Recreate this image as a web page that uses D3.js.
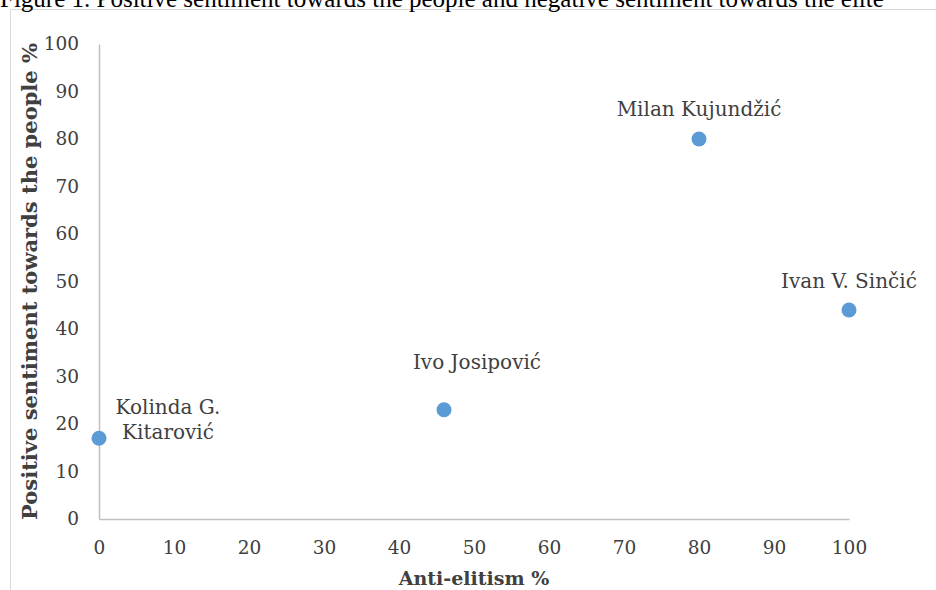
<!DOCTYPE html>
<html>
<head>
<meta charset="utf-8">
<script src="https://cdn.jsdelivr.net/npm/d3@7"></script>
<style>
  body { margin: 0; background: #fff; }
  svg { display: block; }
  .tick text { font-family: "DejaVu Serif", serif; font-size: 18.5px; fill: #404040; }
  .lbl { font-family: "DejaVu Serif", serif; font-size: 20px; fill: #404040; }
  .ttl { font-family: "DejaVu Serif", serif; font-weight: bold; fill: #404040; }
</style>
</head>
<body>
<script>
// data
var names = ["Kolinda G.\nKitarović", "Ivo Josipović", "Milan Kujundžić", "Ivan V. Sinčić"];
var antiElitism = [0, 46, 80, 100];
var positivePeople = [17, 23, 80, 44];
var xTicks = [0, 10, 20, 30, 40, 50, 60, 70, 80, 90, 100];
var yTicks = [0, 10, 20, 30, 40, 50, 60, 70, 80, 90, 100];

// where each data label sits relative to its point (px)
var labelPos = [
  { dx: 69, dy: -24 },
  { dx: 33, dy: -41 },
  { dx: 0, dy: -23 },
  { dx: 0, dy: -22 }
];

var dataset = names.map(function(n, i) {
  return { name: n, x: antiElitism[i], y: positivePeople[i] };
});

var W = 936, H = 590;
var margin = { top: 44, right: 87, bottom: 71, left: 99 };
var width = W - margin.left - margin.right;
var height = H - margin.top - margin.bottom;

var svg = d3.select("body").append("svg")
  .attr("width", W)
  .attr("height", H);

// chart area border (runs off the right/bottom of the picture)
svg.append("rect")
  .attr("x", 10.5).attr("y", 9.5)
  .attr("width", 1000).attr("height", 700)
  .attr("fill", "none")
  .attr("stroke", "#d9d9d9");

// figure caption, cut by the top edge
svg.append("text")
  .attr("x", 0).attr("y", 7)
  .attr("font-family", "Liberation Serif, serif")
  .attr("font-size", 25)
  .attr("fill", "#000")
  .text("Figure 1. Positive sentiment towards the people and negative sentiment towards the elite");

var g = svg.append("g")
  .attr("transform", "translate(" + margin.left + "," + margin.top + ")");

var xScale = d3.scaleLinear().domain([0, 100]).range([0, width]);
var yScale = d3.scaleLinear().domain([0, 100]).range([height, 0]);

var xAxis = g.append("g")
  .attr("transform", "translate(0," + height + ")")
  .call(d3.axisBottom(xScale).tickValues(xTicks).tickSize(0).tickPadding(22));
var yAxis = g.append("g")
  .call(d3.axisLeft(yScale).tickValues(yTicks).tickSize(0).tickPadding(20));

[xAxis, yAxis].forEach(function(a) {
  a.select(".domain").attr("stroke", "#bfbfbf").attr("stroke-width", 1.5);
  a.selectAll("text").attr("font-family", null).attr("font-size", null);
});

// axis titles
g.append("text")
  .attr("class", "ttl")
  .attr("font-size", 19)
  .attr("text-anchor", "middle")
  .attr("x", width / 2)
  .attr("y", height + 66)
  .text("Anti-elitism %");

g.append("text")
  .attr("class", "ttl")
  .attr("font-size", 21)
  .attr("text-anchor", "middle")
  .attr("transform", "translate(-62," + (height / 2) + ") rotate(-90)")
  .text("Positive sentiment towards the people %");

// points
g.selectAll(".dot")
  .data(dataset)
  .enter().append("circle")
  .attr("class", "dot")
  .attr("cx", function(d) { return xScale(d.x); })
  .attr("cy", function(d) { return yScale(d.y); })
  .attr("r", 7.5)
  .attr("fill", "#5b9bd5");

// data labels
var lbl = g.selectAll(".lbl")
  .data(dataset)
  .enter().append("text")
  .attr("class", "lbl")
  .attr("text-anchor", "middle")
  .attr("y", function(d, i) { return yScale(d.y) + labelPos[i].dy; });

lbl.each(function(d, i) {
  var t = d3.select(this);
  var x = xScale(d.x) + labelPos[i].dx;
  d.name.split("\n").forEach(function(line, j) {
    t.append("tspan").attr("x", x).attr("dy", j === 0 ? 0 : 25).text(line);
  });
});
</script>
</body>
</html>
